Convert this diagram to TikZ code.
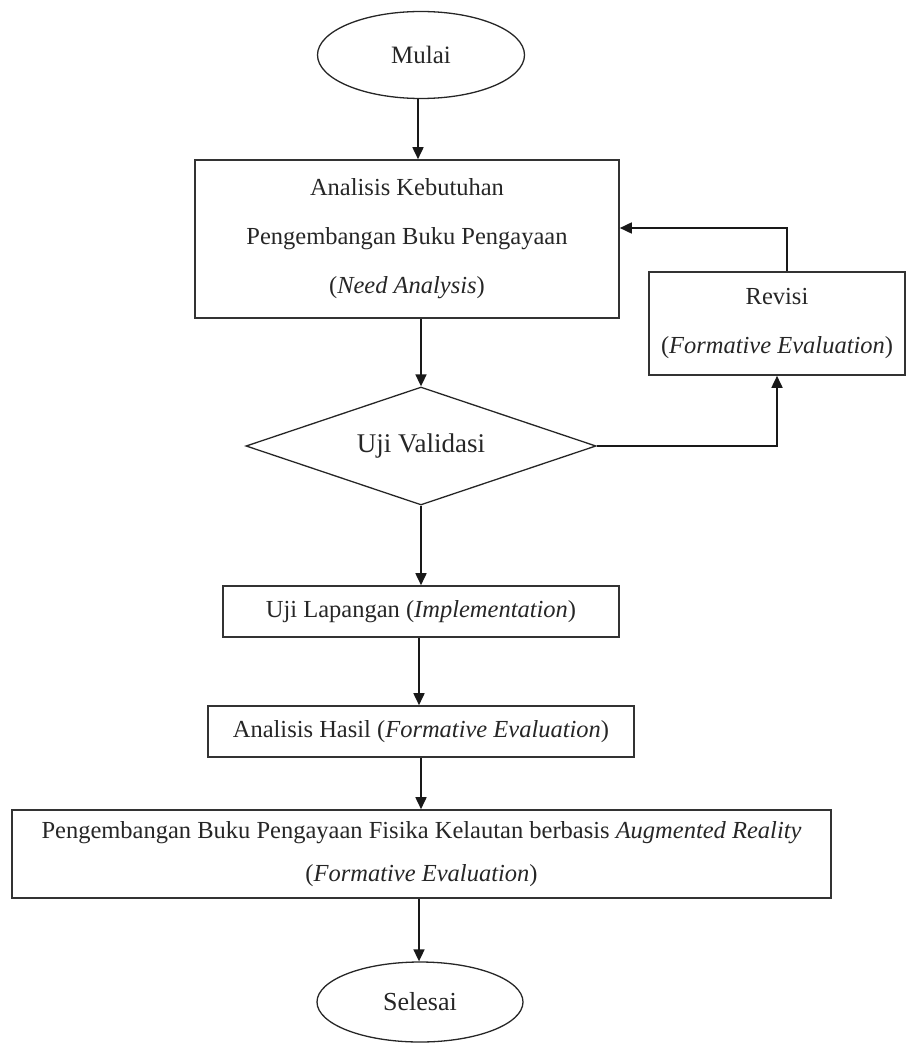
\documentclass[tikz,border=0pt]{standalone}
\usepackage{fontspec}
\setmainfont{Liberation Serif}
\usetikzlibrary{shapes.geometric,arrows.meta}
\begin{document}
\begin{tikzpicture}[x=1pt,y=-1pt,
  txt/.style={font=\fontsize{24.5}{49}\selectfont, text=black!85},
  procbox/.style={draw=black!80, line width=1.6pt, rectangle, inner sep=0pt, align=center, txt},
  term/.style={draw=black!85, line width=1.3pt, ellipse, inner sep=0pt, txt},
  decide/.style={draw=black!85, line width=1.3pt, diamond, shape aspect=3, inner sep=0pt, txt},
  arr/.style={draw=black!90, line width=1.7pt, -{Triangle[length=12pt,width=11pt]}}
]
\useasboundingbox (0,0) rectangle (908,1043);

\node[term, minimum width=207, minimum height=87, font=\fontsize{25}{30}\selectfont] (mulai) at (421,55) {Mulai};
\node[procbox, minimum width=424, minimum height=158] (need) at (407,239)
  {Analisis Kebutuhan\\Pengembangan Buku Pengayaan\\(\textit{Need Analysis})};
\node[procbox, minimum width=256, minimum height=103] (revisi) at (777,323.5)
  {Revisi\\(\textit{Formative Evaluation})};
\node[decide, minimum width=350, minimum height=118, font=\fontsize{27}{32}\selectfont] (valid) at (421,446) {Uji Validasi};
\node[procbox, minimum width=396, minimum height=51] (lapangan) at (421,611.5)
  {Uji Lapangan (\textit{Implementation})};
\node[procbox, minimum width=426, minimum height=51] (hasil) at (421,731.5)
  {Analisis Hasil (\textit{Formative Evaluation})};
\node[procbox, minimum width=819, minimum height=88, font=\fontsize{24.5}{43}\selectfont] (kembang) at (421.5,854)
  {Pengembangan Buku Pengayaan Fisika Kelautan berbasis \textit{Augmented Reality}\\(\textit{Formative Evaluation})};
\node[term, minimum width=206, minimum height=80, font=\fontsize{26}{31}\selectfont] (selesai) at (420,1002) {Selesai};

\draw[arr] (mulai.south -| 418,0) -- (need.north -| 418,0);
\draw[arr] (need.south -| 421,0) -- (valid.north);
\draw[arr] (valid.south) -- (lapangan.north -| 421,0);
\draw[arr] (lapangan.south -| 419,0) -- (hasil.north -| 419,0);
\draw[arr] (hasil.south -| 421,0) -- (kembang.north -| 421,0);
\draw[arr] (kembang.south -| 419,0) -- (selesai.north -| 419,0);
\draw[arr] (valid.east) -| (revisi.south);
\draw[arr] ([xshift=10pt]revisi.north) |- ([yshift=11pt]need.east);
\end{tikzpicture}
\end{document}
